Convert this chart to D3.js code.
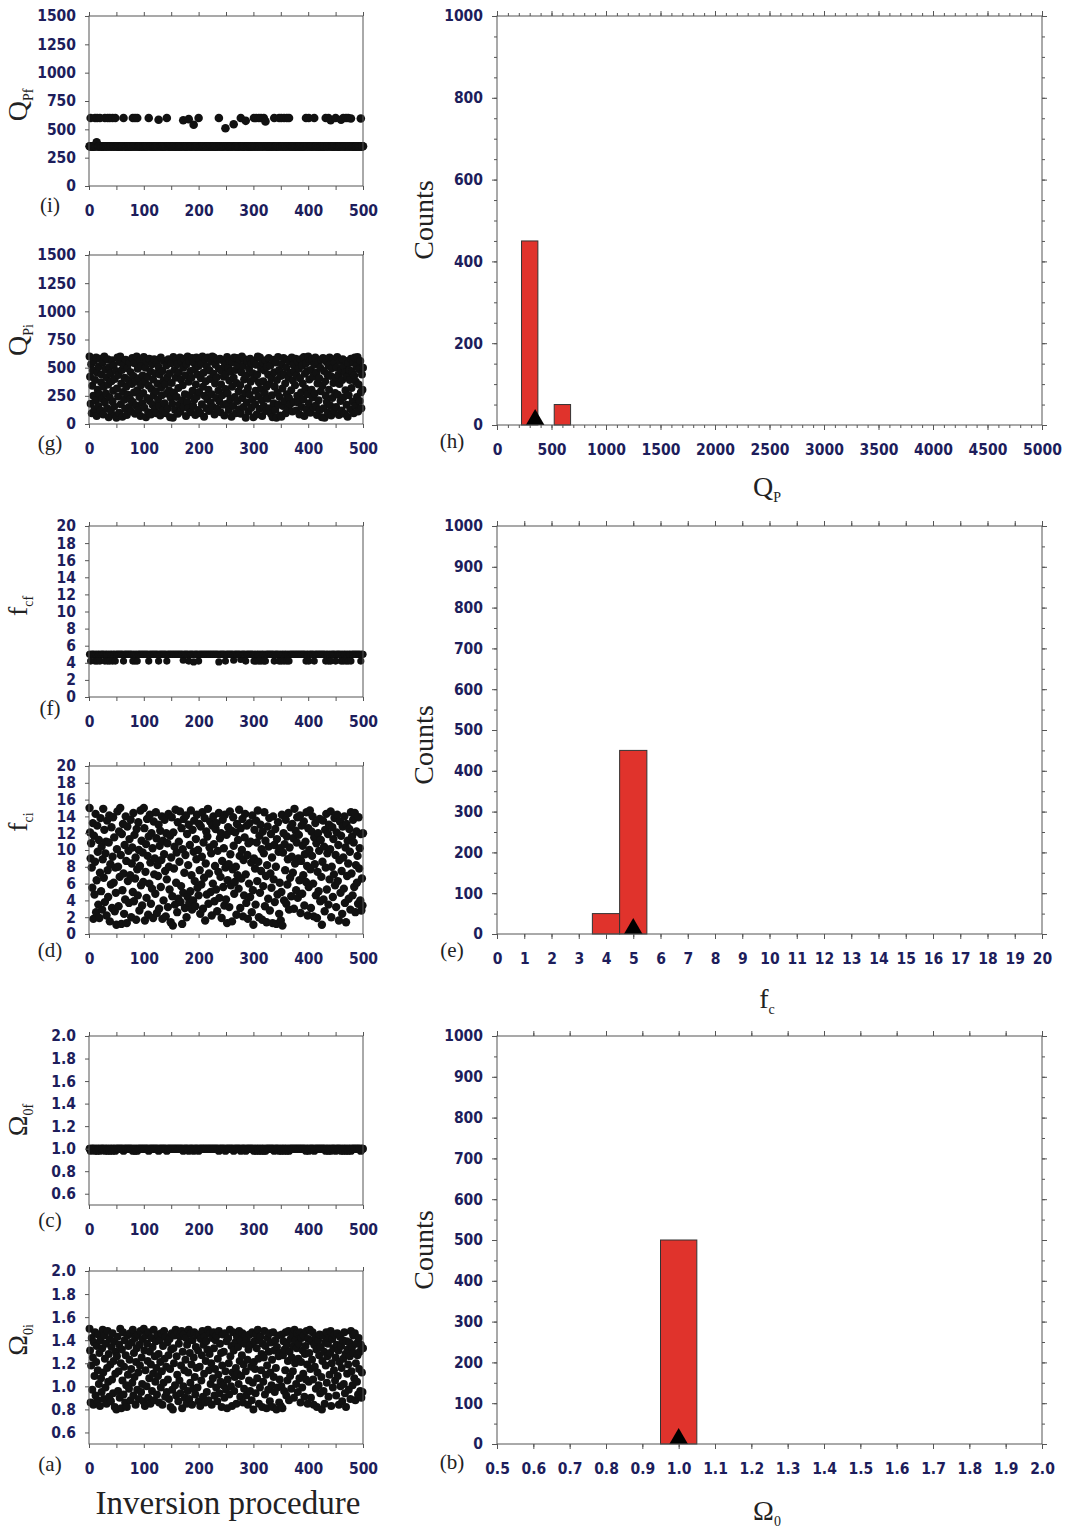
<!DOCTYPE html>
<html>
<head>
<meta charset="utf-8">
<script src="https://cdn.jsdelivr.net/npm/d3@7"></script>
<style>
body { margin: 0; background: #fff; }
.tick text { font-family: "DejaVu Sans Condensed", "DejaVu Sans", sans-serif; font-weight: bold; font-size: 15.5px; fill: #1d1d5b; }
.tick line { stroke: #555; }
.serif { font-family: "Liberation Serif", "Times New Roman", serif; fill: #222; }
</style>
</head>
<body>
<div id="chart"></div>
<script>
// inversion step axis of the left panels
var iterTicks = [0, 50, 100, 150, 200, 250, 300, 350, 400, 450, 500];

// initial (random start) values of each inversion run
var qpiValues = [
600,420,180,530,95,340,475,250,560,130,390,210,590,70,455,305,160,510,265,580,120,370,440,225,545,
85,330,600,190,485,270,415,140,575,350,60,505,235,445,115,380,565,200,295,520,155,400,75,470,55,
315,590,245,435,100,550,600,175,360,480,65,285,525,215,410,135,570,330,80,495,260,390,150,545,220,
460,110,355,585,195,425,280,540,90,375,165,600,300,490,125,405,240,565,70,345,515,185,430,275,595,
145,380,500,60,555,230,420,105,340,580,205,465,85,310,530,170,395,255,575,130,450,290,95,545,360,
215,505,160,440,75,590,325,255,470,120,385,560,185,355,95,520,270,415,140,575,300,450,60,235,540,
365,180,55,595,280,480,125,410,575,240,530,90,320,460,175,590,110,395,555,210,345,500,150,580,265,
430,70,530,195,600,140,375,560,255,470,105,410,585,295,160,545,215,485,80,350,590,245,440,125,515,
285,570,95,405,535,175,600,330,455,65,250,575,380,140,510,220,590,305,115,475,400,190,555,265,600,
150,445,590,85,360,525,230,415,135,570,295,490,200,580,105,350,470,255,565,170,420,75,520,310,445,
180,595,270,500,125,385,560,220,465,65,330,545,160,410,590,240,480,95,365,585,205,520,290,130,575,
345,90,460,600,230,515,150,395,575,275,55,430,190,555,320,110,490,260,580,375,145,535,215,450,60,
405,560,175,295,525,85,440,600,245,370,135,590,310,490,210,70,545,380,160,475,270,565,115,330,510,
225,440,585,140,355,520,90,405,255,60,570,185,460,330,125,545,55,390,280,595,170,480,240,75,425,
65,530,315,160,585,440,205,360,95,500,265,570,135,410,230,555,175,455,300,590,110,385,525,195,470,
345,580,120,430,250,555,190,490,85,405,575,280,150,520,360,220,595,70,445,315,540,130,470,265,600,
185,395,560,100,480,305,575,235,420,145,525,270,590,165,455,80,360,545,210,405,125,500,290,570,60,
340,585,140,470,55,380,250,555,195,440,100,520,305,590,165,425,75,495,230,575,365,120,545,275,410,
150,500,595,260,435,80,355,560,205,475,120,390,575,235,510,90,455,300,560,170,420,65,540,255,480,
390,130,580,320,465,200,545,95,430,590,160,375,515,240,595,110,350,485,205,560,280,140,440,305,500
];
var fciValues = [
15.0,12.1,9.0,10.8,7.9,5.5,13.2,1.8,11.7,4.7,8.6,14.3,2.6,6.4,12.9,9.8,3.5,11.2,1.9,7.3,13.8,5.1,10.4,2.9,8.9,
14.9,6.7,12.4,3.8,9.6,11.0,2.2,13.5,7.6,4.4,10.9,14.1,1.5,8.3,5.9,12.7,3.1,9.2,13.9,6.1,11.5,2.7,7.9,4.9,1.1,
10.1,14.6,8.0,3.3,12.2,6.8,15.0,9.4,1.2,11.9,5.2,13.1,7.2,2.4,10.6,4.1,14.0,8.7,1.3,12.8,6.3,9.9,3.7,11.3,7.0,
13.6,2.0,8.4,10.3,5.0,14.4,3.9,11.8,6.6,9.1,1.7,12.5,7.7,4.6,13.3,10.0,2.8,8.1,14.7,5.8,11.1,3.4,9.7,6.2,15.0,
12.6,1.6,7.4,10.7,4.3,13.7,9.3,2.3,11.6,6.0,14.2,8.5,3.6,12.0,5.4,10.2,1.9,13.4,7.1,9.0,4.8,14.5,11.4,2.5,8.2,
6.9,13.0,3.0,10.5,12.3,5.6,8.8,14.0,1.8,11.1,4.0,9.5,13.6,7.5,2.1,12.0,6.5,10.8,3.2,14.3,8.0,5.3,11.7,1.4,9.1,
13.9,4.5,1.0,12.1,7.8,10.4,3.5,14.8,6.1,9.7,2.6,13.3,4.2,11.0,8.6,14.6,3.8,5.7,12.6,1.2,10.1,4.9,13.7,7.3,3.1,
9.4,14.1,2.0,11.9,4.4,8.2,13.0,3.7,10.6,5.1,14.7,7.0,2.9,12.4,4.0,9.8,13.5,6.3,3.3,11.3,8.9,14.2,5.5,10.0,4.6,
13.1,7.6,2.4,12.8,5.9,9.2,14.5,3.0,10.9,6.7,13.8,1.6,8.4,12.2,4.7,11.6,14.9,3.6,7.2,10.3,13.4,5.0,9.6,2.2,12.9,
6.0,14.0,10.7,3.9,8.1,12.5,5.3,13.2,2.7,9.9,7.4,14.4,4.3,11.4,6.8,12.0,1.9,8.7,13.6,5.6,10.2,3.4,14.2,7.9,4.1,
11.8,1.3,6.4,12.7,8.3,3.2,14.6,9.5,5.8,12.3,1.5,7.7,13.9,10.5,4.8,6.2,12.1,8.0,2.3,13.1,7.0,11.2,5.4,14.8,9.3,
3.1,12.6,6.6,10.0,13.7,2.1,8.8,4.6,11.5,14.3,7.1,3.7,12.9,9.4,1.8,10.8,6.0,13.2,4.4,11.0,8.5,2.6,14.1,5.2,1.1,
9.0,12.4,7.8,3.5,13.5,10.9,6.3,14.7,8.6,2.0,11.7,4.9,13.0,7.5,10.1,1.7,12.2,5.7,9.6,14.5,3.3,11.1,6.9,1.4,8.2,
12.8,4.2,10.4,13.8,2.8,7.2,11.9,5.5,9.1,1.3,14.0,6.5,10.6,3.8,12.5,8.0,1.2,11.3,4.7,13.3,9.8,2.4,6.1,10.2,1.6,
5.0,14.2,1.0,9.7,12.0,4.0,10.7,7.6,13.6,3.6,11.6,5.9,8.9,14.4,2.9,10.3,6.7,12.7,4.5,9.2,13.1,7.3,11.4,3.0,14.9,
8.4,12.3,5.2,10.9,13.9,4.3,9.0,11.8,6.4,14.1,2.5,8.7,12.9,4.8,10.5,7.0,13.4,3.4,9.5,11.0,6.2,14.5,8.1,2.2,12.6,
5.6,10.0,14.7,7.7,3.1,12.2,9.3,14.0,6.0,2.1,11.5,8.3,13.2,4.6,10.8,1.9,7.4,12.0,5.1,9.9,13.7,3.9,11.2,6.8,1.1,
8.6,13.5,4.1,10.4,2.7,12.4,7.9,14.3,5.3,9.6,11.9,3.5,13.0,6.5,10.1,14.6,2.0,8.0,12.7,4.4,11.3,7.1,13.8,5.8,9.4,
3.2,12.1,14.2,6.3,10.6,1.6,8.8,13.4,4.9,11.7,7.5,2.4,12.8,9.1,5.4,14.0,3.7,10.3,1.4,13.1,6.9,11.1,8.4,4.2,12.5,
9.8,2.9,14.5,7.2,11.6,4.6,13.6,10.9,5.6,14.4,2.6,8.2,12.2,6.1,9.3,3.6,13.9,7.8,10.2,4.0,11.9,2.8,6.6,3.4,12.0
];
var omiValues = [
1.50,1.31,0.86,1.18,1.42,0.97,1.25,0.84,1.38,1.09,1.47,0.92,1.21,1.35,0.88,1.14,1.45,1.02,1.29,0.83,1.40,1.07,0.95,1.33,1.49,
1.12,0.89,1.44,1.24,0.99,1.37,0.85,1.16,1.48,1.04,1.28,0.91,1.41,1.19,0.87,1.34,1.06,1.46,0.94,1.22,1.39,0.82,1.11,1.30,0.80,
1.26,1.43,0.96,1.13,1.36,0.90,1.50,1.20,0.81,1.32,1.05,1.47,0.93,1.17,1.40,0.86,1.27,1.01,0.82,1.44,1.10,1.35,0.98,1.23,1.46,
0.88,1.15,1.38,1.03,1.49,0.92,1.29,1.08,1.42,0.84,1.21,1.33,0.97,1.45,1.12,0.89,1.36,1.18,1.48,0.95,1.25,1.02,1.41,0.87,1.50,
1.31,0.83,1.14,1.44,1.00,1.37,1.22,0.90,1.47,1.07,1.30,0.85,1.19,1.42,0.96,1.34,1.11,1.49,0.88,1.26,1.04,1.39,1.16,0.93,1.45,
1.09,1.28,0.86,1.40,1.21,0.99,1.46,1.13,0.84,1.35,1.03,1.48,1.24,0.91,1.43,1.17,0.95,1.38,1.06,1.27,0.89,1.41,1.15,0.82,1.32,
1.46,0.97,0.80,1.33,1.20,1.44,1.01,1.49,0.92,1.26,1.10,1.47,0.87,1.37,1.05,1.43,0.94,1.18,1.48,0.81,1.30,1.00,1.45,1.14,0.90,
1.23,1.42,0.85,1.36,0.96,1.12,1.49,0.89,1.29,1.03,1.46,1.19,0.84,1.40,0.98,1.25,1.47,1.08,0.93,1.34,1.16,1.44,0.99,1.31,0.87,
1.45,1.17,0.83,1.41,1.05,1.27,1.48,0.91,1.36,1.11,1.43,0.86,1.22,1.39,0.95,1.32,1.49,0.88,1.14,1.28,1.46,1.02,1.20,0.84,1.42,
1.07,1.47,1.33,0.92,1.15,1.40,0.99,1.44,0.87,1.24,1.10,1.48,0.94,1.37,1.04,1.29,0.82,1.18,1.45,1.01,1.30,0.90,1.46,1.13,0.97,
1.39,0.81,1.06,1.42,1.20,0.93,1.49,1.26,1.00,1.35,0.83,1.12,1.47,1.31,0.96,1.08,1.38,1.16,0.85,1.43,1.11,1.34,1.02,1.48,1.22,
0.91,1.40,1.09,1.27,1.46,0.86,1.19,0.98,1.37,1.44,1.13,0.92,1.41,1.23,0.84,1.32,1.05,1.45,0.96,1.36,1.17,0.88,1.47,1.03,0.80,
1.21,1.39,1.15,0.94,1.45,1.33,1.07,1.49,1.24,0.85,1.40,0.99,1.43,1.14,1.28,0.82,1.37,1.04,1.25,1.48,0.93,1.35,1.10,0.81,1.18,
1.42,0.97,1.30,1.46,0.87,1.12,1.38,1.01,1.23,0.82,1.47,1.08,1.31,0.95,1.40,1.16,0.80,1.34,0.99,1.44,1.26,0.86,1.06,1.29,0.83,
1.00,1.45,0.81,1.27,1.39,0.96,1.32,1.14,1.47,0.92,1.36,1.05,1.22,1.48,0.88,1.30,1.09,1.41,0.98,1.25,1.44,1.13,1.35,0.90,1.49,
1.20,1.40,1.02,1.33,1.46,0.95,1.24,1.37,1.07,1.47,0.86,1.21,1.42,0.99,1.31,1.11,1.44,0.91,1.28,1.35,1.06,1.48,1.19,0.85,1.41,
1.04,1.29,1.49,1.15,0.90,1.39,1.23,1.47,1.06,0.84,1.36,1.17,1.43,0.98,1.32,0.82,1.12,1.40,1.01,1.27,1.45,0.94,1.34,1.08,0.80,
1.22,1.44,0.96,1.30,0.85,1.38,1.18,1.47,1.03,1.26,1.37,0.91,1.42,1.10,1.29,1.48,0.83,1.20,1.41,0.99,1.33,1.14,1.45,1.05,1.25,
0.92,1.36,1.46,1.09,1.31,0.84,1.21,1.43,1.00,1.35,1.16,0.87,1.40,1.24,1.02,1.47,0.94,1.28,0.82,1.39,1.11,1.32,1.19,0.97,1.38,
1.26,0.89,1.48,1.13,1.34,1.01,1.44,1.29,1.07,1.46,0.88,1.20,1.37,1.04,1.27,0.93,1.42,1.15,1.30,0.96,1.36,0.90,1.12,0.95,1.33
];

// final values: most runs converge to the base value, the listed runs end elsewhere
var runCount = 500;
var qpfBase = 350;
var qpfIter = [2,10,13,14,19,28,33,37,42,47,62,79,83,87,108,126,141,171,181,190,199,236,248,263,276,285,300,304,309,313,318,321,337,346,350,355,360,364,395,400,410,431,436,440,449,459,463,468,472,477,495];
var qpfValues = [600,600,385,600,600,600,600,600,600,600,600,600,600,600,600,585,600,580,590,540,600,600,510,545,600,575,600,600,600,600,600,570,600,600,600,600,600,600,600,600,600,600,600,580,600,585,600,600,600,595,595];
var fcfBase = 5.0;
var fcfIter = [2,10,14,19,28,33,37,42,47,62,79,83,87,108,126,141,171,181,190,199,236,248,263,276,285,300,304,309,313,318,321,337,346,350,355,360,364,395,400,410,431,436,440,449,459,463,468,472,477,495];
var fcfValues = [4.2,4.2,4.2,4.2,4.2,4.2,4.2,4.2,4.2,4.2,4.2,4.2,4.2,4.2,4.2,4.2,4.3,4.2,4.1,4.2,4.1,4.2,4.3,4.4,4.2,4.2,4.2,4.2,4.2,4.2,4.2,4.2,4.2,4.2,4.2,4.2,4.2,4.2,4.2,4.2,4.2,4.2,4.2,4.2,4.2,4.2,4.2,4.2,4.2,4.2];
var omfBase = 1.0;
var omfIter = fcfIter;
var omfValues = [0.98,0.98,0.98,0.98,0.98,0.98,0.98,0.98,0.98,0.98,0.98,0.98,0.98,0.98,0.98,0.98,0.98,0.98,0.98,0.98,0.98,0.98,0.98,0.98,0.98,0.98,0.98,0.98,0.98,0.98,0.98,0.98,0.98,0.98,0.98,0.98,0.98,0.98,0.98,0.98,0.98,0.98,0.98,0.98,0.98,0.98,0.98,0.98,0.98,0.98];

// histograms of the final values
var qpBinStart = [225, 525];
var qpBinEnd = [375, 675];
var qpCounts = [450, 50];
var qpTrue = 350;
var fcBinStart = [3.5, 4.5];
var fcBinEnd = [4.5, 5.5];
var fcCounts = [50, 450];
var fcTrue = 5;
var omBinStart = [0.95];
var omBinEnd = [1.05];
var omCounts = [500];
var omTrue = 1.0;

// tick labels
var qTicks = [0, 250, 500, 750, 1000, 1250, 1500];
var fTicks = [0, 2, 4, 6, 8, 10, 12, 14, 16, 18, 20];
var omTicks = [0.6, 0.8, 1.0, 1.2, 1.4, 1.6, 1.8, 2.0];
var qpHistX = [0, 500, 1000, 1500, 2000, 2500, 3000, 3500, 4000, 4500, 5000];
var fcHistX = d3.range(0, 21, 1);
var omHistX = [0.5, 0.6, 0.7, 0.8, 0.9, 1.0, 1.1, 1.2, 1.3, 1.4, 1.5, 1.6, 1.7, 1.8, 1.9, 2.0];

function finalSeries(base, iters, vals) {
    var out = d3.range(runCount).map(function () { return base; });
    iters.forEach(function (it, k) { out[it] = vals[k]; });
    return out;
}

var svg = d3.select("#chart")
    .append("svg")
    .attr("width", 1066)
    .attr("height", 1532);

svg.append("rect").attr("width", 1066).attr("height", 1532).attr("fill", "#fff");

var leftX = d3.scaleLinear().domain([0, 500]).range([89, 363]);

function subLabel(x, y, main, sub, size, rotate) {
    var t = svg.append("text")
        .attr("class", "serif")
        .attr("text-anchor", "middle")
        .attr("font-size", size);
    if (rotate) {
        t.attr("transform", `translate(${x},${y}) rotate(-90)`);
    } else {
        t.attr("x", x).attr("y", y);
    }
    t.append("tspan").text(main);
    t.append("tspan").attr("dy", size * 0.2).attr("font-size", size * 0.5).text(sub);
    return t;
}

function letter(x, y, txt) {
    svg.append("text")
        .attr("class", "serif")
        .attr("x", x)
        .attr("y", y)
        .attr("text-anchor", "middle")
        .attr("font-size", 21)
        .text(txt);
}

function scatterPanel(cfg) {
    var y = d3.scaleLinear().domain(cfg.domain).range([cfg.bottom, cfg.top]);
    var g = svg.append("g");

    g.append("g").selectAll("circle")
        .data(cfg.values)
        .join("circle")
        .attr("cx", (d, i) => leftX(i + 1))
        .attr("cy", d => y(d))
        .attr("r", cfg.r)
        .attr("fill", "#111");

    g.append("rect")
        .attr("x", 89).attr("y", cfg.top)
        .attr("width", 274).attr("height", cfg.bottom - cfg.top)
        .attr("fill", "none").attr("stroke", "#555");

    g.append("g")
        .attr("transform", `translate(0,${cfg.bottom})`)
        .call(d3.axisBottom(leftX).tickValues(iterTicks).tickSize(4).tickPadding(15)
            .tickFormat(d => d % 100 === 0 ? d : ""));
    g.append("g")
        .attr("transform", `translate(0,${cfg.top})`)
        .call(d3.axisTop(leftX).tickValues(iterTicks).tickSize(4).tickFormat(""));
    g.append("g")
        .attr("transform", "translate(89,0)")
        .call(d3.axisLeft(y).tickValues(cfg.ticks).tickSize(4).tickPadding(9).tickFormat(cfg.fmt));
    g.selectAll(".domain").remove();

    subLabel(27, cfg.labelY, cfg.main, cfg.sub, 28, true);
    letter(50, cfg.letterY, cfg.letter);
}

function histPanel(cfg) {
    var x = d3.scaleLinear().domain(cfg.xDomain).range([497, 1042]);
    var y = d3.scaleLinear().domain([0, 1000]).range([cfg.bottom, cfg.top]);
    var g = svg.append("g");

    g.append("g").selectAll("rect")
        .data(cfg.counts)
        .join("rect")
        .attr("x", (d, i) => x(cfg.start[i]))
        .attr("width", (d, i) => x(cfg.end[i]) - x(cfg.start[i]))
        .attr("y", d => y(d))
        .attr("height", d => y(0) - y(d))
        .attr("fill", "#e0332c")
        .attr("stroke", "#333")
        .attr("stroke-width", 1);

    var triSize = 150;
    var triOff = Math.sqrt(triSize / (Math.sqrt(3) * 3));
    g.append("path")
        .attr("d", d3.symbol(d3.symbolTriangle, triSize))
        .attr("transform", `translate(${x(cfg.trueValue)},${y(0) - triOff})`)
        .attr("fill", "#000");

    g.append("rect")
        .attr("x", 497).attr("y", cfg.top)
        .attr("width", 545).attr("height", cfg.bottom - cfg.top)
        .attr("fill", "none").attr("stroke", "#555");

    g.append("g")
        .attr("transform", `translate(0,${cfg.bottom})`)
        .call(d3.axisBottom(x).tickValues(cfg.xMinor).tickSize(3).tickFormat(""));
    g.append("g")
        .attr("transform", `translate(0,${cfg.bottom})`)
        .call(d3.axisBottom(x).tickValues(cfg.xTicks).tickSize(5).tickPadding(14).tickFormat(cfg.xFmt));
    g.append("g")
        .attr("transform", `translate(0,${cfg.top})`)
        .call(d3.axisTop(x).tickValues(cfg.xMinor).tickSize(3).tickFormat(""));
    g.append("g")
        .attr("transform", `translate(0,${cfg.top})`)
        .call(d3.axisTop(x).tickValues(cfg.xTicks).tickSize(5).tickFormat(""));

    var yMinor = d3.range(0, 1001, 50);
    g.append("g")
        .attr("transform", "translate(497,0)")
        .call(d3.axisLeft(y).tickValues(yMinor).tickSize(3).tickFormat(""));
    g.append("g")
        .attr("transform", "translate(497,0)")
        .call(d3.axisLeft(y).tickValues(cfg.yTicks).tickSize(5).tickPadding(9).tickFormat(d3.format("d")));
    g.append("g")
        .attr("transform", "translate(1042,0)")
        .call(d3.axisRight(y).tickValues(yMinor).tickSize(3).tickFormat(""));
    g.append("g")
        .attr("transform", "translate(1042,0)")
        .call(d3.axisRight(y).tickValues(cfg.yTicks).tickSize(5).tickFormat(""));
    g.selectAll(".domain").remove();

    svg.append("text")
        .attr("class", "serif")
        .attr("transform", `translate(433,${cfg.countsY}) rotate(-90)`)
        .attr("text-anchor", "middle")
        .attr("font-size", 28)
        .text("Counts");

    subLabel(767, cfg.xLabelY, cfg.main, cfg.sub, 28, false);
    letter(452, cfg.letterY, cfg.letter);
}

// left column
scatterPanel({ top: 16, bottom: 186, domain: [0, 1500], ticks: qTicks, fmt: d3.format("d"),
    values: finalSeries(qpfBase, qpfIter, qpfValues), r: 4.3, main: "Q", sub: "Pf", labelY: 105, letter: "(i)", letterY: 212 });
scatterPanel({ top: 255, bottom: 424, domain: [0, 1500], ticks: qTicks, fmt: d3.format("d"),
    values: qpiValues, r: 4.0, main: "Q", sub: "Pi", labelY: 340, letter: "(g)", letterY: 450 });
scatterPanel({ top: 526, bottom: 697, domain: [0, 20], ticks: fTicks, fmt: d3.format("d"),
    values: finalSeries(fcfBase, fcfIter, fcfValues), r: 3.6, main: "f", sub: "cf", labelY: 606, letter: "(f)", letterY: 715 });
scatterPanel({ top: 766, bottom: 934, domain: [0, 20], ticks: fTicks, fmt: d3.format("d"),
    values: fciValues, r: 4.2, main: "f", sub: "ci", labelY: 822, letter: "(d)", letterY: 957 });
scatterPanel({ top: 1036, bottom: 1205, domain: [0.5, 2.0], ticks: omTicks, fmt: d3.format(".1f"),
    values: finalSeries(omfBase, omfIter, omfValues), r: 3.9, main: "\u03A9", sub: "0f", labelY: 1120, letter: "(c)", letterY: 1227 });
scatterPanel({ top: 1271, bottom: 1444, domain: [0.5, 2.0], ticks: omTicks, fmt: d3.format(".1f"),
    values: omiValues, r: 4.0, main: "\u03A9", sub: "0i", labelY: 1340, letter: "(a)", letterY: 1471 });

svg.append("text")
    .attr("class", "serif")
    .attr("x", 228)
    .attr("y", 1514)
    .attr("text-anchor", "middle")
    .attr("font-size", 33)
    .text("Inversion procedure");

// right column
histPanel({ top: 16, bottom: 425, xDomain: [0, 5000], xTicks: qpHistX, xMinor: d3.range(0, 5001, 100),
    xFmt: d3.format("d"), yTicks: [0, 200, 400, 600, 800, 1000],
    start: qpBinStart, end: qpBinEnd, counts: qpCounts, trueValue: qpTrue,
    countsY: 220, main: "Q", sub: "P", xLabelY: 496, letter: "(h)", letterY: 448 });
histPanel({ top: 526, bottom: 934, xDomain: [0, 20], xTicks: fcHistX, xMinor: fcHistX,
    xFmt: d3.format("d"), yTicks: d3.range(0, 1001, 100),
    start: fcBinStart, end: fcBinEnd, counts: fcCounts, trueValue: fcTrue,
    countsY: 745, main: "f", sub: "c", xLabelY: 1008, letter: "(e)", letterY: 957 });
histPanel({ top: 1036, bottom: 1444, xDomain: [0.5, 2.0], xTicks: omHistX, xMinor: omHistX,
    xFmt: d3.format(".1f"), yTicks: d3.range(0, 1001, 100),
    start: omBinStart, end: omBinEnd, counts: omCounts, trueValue: omTrue,
    countsY: 1250, main: "\u03A9", sub: "0", xLabelY: 1520, letter: "(b)", letterY: 1469 });
</script>
</body>
</html>
